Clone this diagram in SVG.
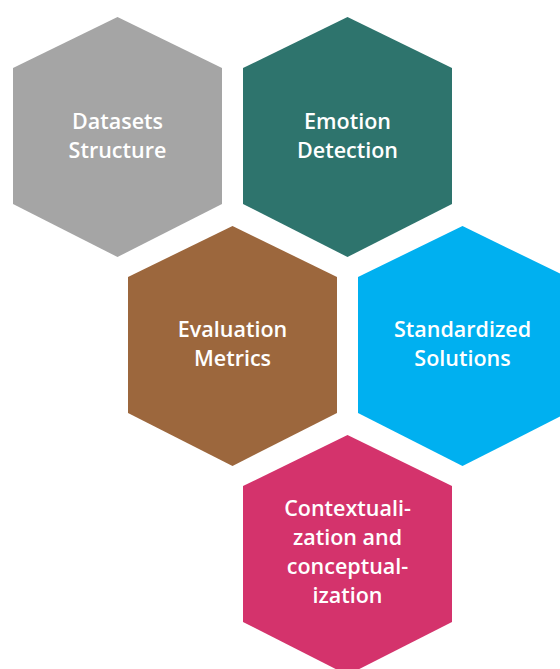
<svg xmlns="http://www.w3.org/2000/svg" width="560" height="669" viewBox="0 0 560 669">
<defs>
<style>
.lbl{font-family:"Open Sans","Liberation Sans",sans-serif;font-size:21.5px;font-weight:600;fill:#ffffff;text-anchor:middle;}
</style>
<polygon id="hex" points="0,0 104.5,51 104.5,187 0,240 -104.5,187 -104.5,51"/>
</defs>
<rect width="560" height="669" fill="#ffffff"/>
<g id="connectors"></g>
<g id="datasets">
<use href="#hex" x="117.5" y="17" fill="#A5A5A5"/>
<text class="lbl" x="117.5" y="129">Datasets</text>
<text class="lbl" x="117.5" y="158">Structure</text>
</g>
<g id="emotion">
<use href="#hex" x="347.5" y="17" fill="#2E746D"/>
<text class="lbl" x="347.5" y="129">Emotion</text>
<text class="lbl" x="347.5" y="158">Detection</text>
</g>
<g id="evaluation">
<use href="#hex" x="232.5" y="226" fill="#9C673D"/>
<text class="lbl" x="232.5" y="337">Evaluation</text>
<text class="lbl" x="232.5" y="366">Metrics</text>
</g>
<g id="standardized">
<use href="#hex" x="462.5" y="226" fill="#00B0F0"/>
<text class="lbl" x="462.5" y="337">Standardized</text>
<text class="lbl" x="462.5" y="366">Solutions</text>
</g>
<g id="contextualization">
<use href="#hex" x="347.5" y="435" fill="#D4336C"/>
<text class="lbl" x="347.5" y="516">Contextuali-</text>
<text class="lbl" x="347.5" y="545">zation and</text>
<text class="lbl" x="347.5" y="574">conceptual-</text>
<text class="lbl" x="347.5" y="603">ization</text>
</g>
</svg>
